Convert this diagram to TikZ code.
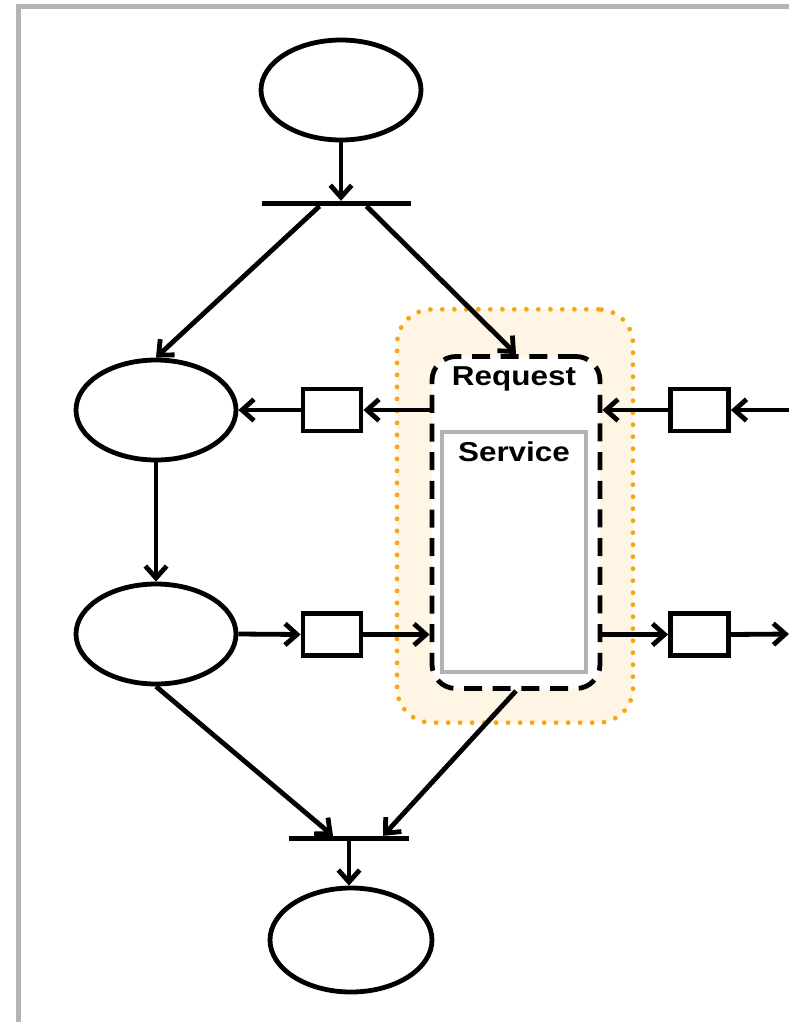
\documentclass[tikz,border=0pt]{standalone}
\usepackage{fontspec}
\setmainfont{Liberation Sans}
\usetikzlibrary{arrows.meta,calc,shapes.geometric}

\definecolor{framegray}{RGB}{180,180,180}
\definecolor{zoneorange}{RGB}{245,166,20}
\definecolor{zonefill}{RGB}{254,245,228}
\definecolor{servicegray}{RGB}{178,178,178}

\tikzset{
  place/.style={ellipse, draw, line width=3.6pt, minimum width=120pt, minimum height=75pt, inner sep=0pt},
  token/.style={rectangle, draw, line width=3.6pt, minimum width=43.5pt, minimum height=31.5pt, inner sep=0pt},
  bar/.style={rectangle, fill=black, inner sep=0pt, minimum height=3.6pt},
  flow/.style={line width=3.6pt, -{Straight Barb[length=9pt,width=16pt,line width=3.6pt]}},
  label/.style={font=\fontsize{20.5}{24}\selectfont\bfseries, inner sep=0pt},
}

\begin{document}
\begin{tikzpicture}[x=0.75pt,y=-0.75pt]
\useasboundingbox (0,0) rectangle (789,1022);

% outer frame
\draw[framegray, line width=3.75pt] (18.5,6.5) rectangle (830,1060);

% shaded interaction zone
\node (zone) [rectangle, rounded corners=26pt, fill=zonefill, draw=zoneorange,
  line width=3.6pt, dash pattern=on 0pt off 9pt, line cap=round,
  minimum width=177pt, minimum height=310pt] at (515,516) {};

% request boundary and service
\node (req) [rectangle, rounded corners=18pt, draw, fill=white, line width=3.6pt,
  dash pattern=on 13.5pt off 8pt, minimum width=126pt, minimum height=249pt] at (516,522.5) {};
\node (svc) [rectangle, draw=servicegray, fill=white, line width=3.2pt,
  minimum width=108.5pt, minimum height=180pt] at (514,552) {};
\node (reqlbl) [label] at (514,379) {\scalebox{1.15}[1]{Request}};
\node (svclbl) [label] at (514,452) {\scalebox{1.15}[1]{Service}};

% places
\node (top) [place] at (341,90) {};
\node (p1) [place] at (156,410) {};
\node (p2) [place] at (156,634) {};
\node (bot) [place, minimum width=121.5pt, minimum height=78pt] at (351,940) {};

% transitions
\node (bartop) [bar, minimum width=112pt] at (336.5,203.5) {};
\node (barbot) [bar, minimum width=90pt] at (349,838.5) {};

% message boxes
\node (t1) [token] at (332,410) {};
\node (t2) [token] at (332,634.5) {};
\node (t3) [token] at (699.5,410) {};
\node (t4) [token] at (699.5,634.5) {};

% free ends at the right border
\coordinate (rin) at (800,410);
\coordinate (rout) at (789,634);

% control flow
\draw[flow] (top.south) -- (top.south |- bartop.north);
\draw[flow] ($(bartop.south)+(-17,0)$) -- (p1.north);
\draw[flow] ($(bartop.south)+(30,0)$) -- (req.north);
\draw[flow] (p1.south) -- (p2.north);
\draw[flow] (p2.south) -- ($(barbot.north)+(-16,0)$);
\draw[flow] (req.south) -- ($(barbot.north)+(34,0)$);
\draw[flow] (barbot.south) -- (barbot.south |- bot.north);

% message flow
\draw[flow] (req.west |- t1) -- (t1.east);
\draw[flow] (t1.west) -- (p1.east);
\draw[flow] (rin) -- (t3.east);
\draw[flow] (t3.west) -- (req.east |- t3);
\draw[flow] (p2.east) -- (t2.west);
\draw[flow] (t2.east) -- (req.west |- t2);
\draw[flow] (req.east |- t4) -- (t4.west);
\draw[flow] (t4.east) -- (rout);
\end{tikzpicture}
\end{document}
